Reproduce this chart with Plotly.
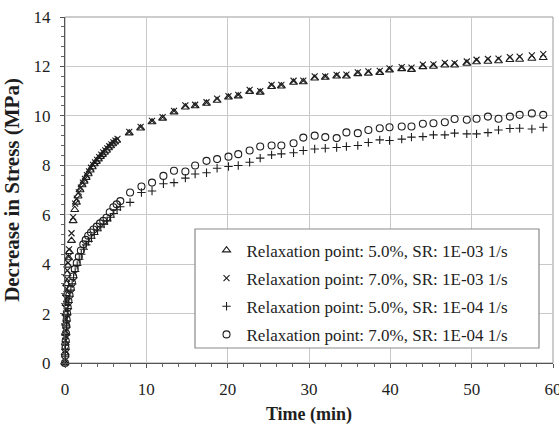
import plotly.graph_objects as go

# Stress relaxation: decrease in stress vs. time for two relaxation points and two strain rates

# 5.0 %, SR 1E-03 1/s (triangles)
t_5_e3 = [0.0, 0.02, 0.04, 0.06, 0.08, 0.10, 0.13, 0.16, 0.20, 0.26, 0.34, 0.44,
          0.55, 0.8, 1.0, 1.2, 1.4, 1.6, 1.85, 2.1, 2.35, 2.6, 2.85, 3.1, 3.35, 3.6,
          3.85, 4.1, 4.35, 4.6, 4.85, 5.1, 5.35, 5.6, 5.85, 6.1, 6.35,
          7.9, 9.3, 10.7, 12.0, 13.4, 14.8, 16.0, 17.4, 18.7, 20.1, 21.3, 22.7, 24.0,
          25.4, 26.6, 28.1, 29.3, 30.7, 32.0, 33.4, 34.6, 36.0, 37.3, 38.7, 39.9,
          41.4, 42.6, 44.0, 45.3, 46.7, 47.9, 49.4, 50.6, 52.0, 53.3, 54.7, 55.9,
          57.4, 58.8]
s_5_e3 = [0.0, 0.4, 0.8, 1.2, 1.6, 2.0, 2.4, 2.8, 3.2, 3.6, 3.95, 4.25,
          4.5, 4.95, 5.75, 6.2, 6.5, 6.75, 7.0, 7.2, 7.35, 7.5, 7.65, 7.8, 7.93, 8.05,
          8.15, 8.25, 8.35, 8.43, 8.52, 8.6, 8.7, 8.78, 8.86, 8.93, 9.0,
          9.3, 9.5, 9.75, 9.9, 10.15, 10.35, 10.4, 10.5, 10.62, 10.75, 10.8, 10.98, 10.95,
          11.18, 11.2, 11.35, 11.37, 11.52, 11.55, 11.6, 11.6, 11.7, 11.72, 11.75, 11.85,
          11.9, 11.87, 11.98, 12.0, 12.05, 12.05, 12.12, 12.18, 12.2, 12.22, 12.27, 12.28,
          12.32, 12.35]

# 7.0 %, SR 1E-03 1/s (crosses)
t_7_e3 = [0.0, 0.02, 0.04, 0.06, 0.09, 0.12, 0.15, 0.19, 0.24, 0.30, 0.37, 0.45,
          0.5, 0.8, 1.0, 1.25, 1.45, 1.7, 1.95, 2.2, 2.45, 2.7, 2.95, 3.2, 3.45, 3.7,
          3.95, 4.2, 4.45, 4.7, 4.95, 5.2, 5.45, 5.7, 5.95, 6.2, 6.45,
          7.9, 9.3, 10.7, 12.0, 13.4, 14.8, 16.0, 17.4, 18.7, 20.1, 21.3, 22.7, 24.0,
          25.4, 26.6, 28.1, 29.3, 30.7, 32.0, 33.4, 34.6, 36.0, 37.3, 38.7, 39.9,
          41.4, 42.6, 44.0, 45.3, 46.7, 47.9, 49.4, 50.6, 52.0, 53.3, 54.7, 55.9,
          57.4, 58.8]
s_7_e3 = [0.0, 0.5, 0.9, 1.3, 1.8, 2.2, 2.6, 3.0, 3.4, 3.75, 4.05, 4.3,
          4.6, 5.25, 5.9, 6.45, 6.65, 6.9, 7.1, 7.3, 7.45, 7.6, 7.75, 7.9, 8.02, 8.12,
          8.22, 8.33, 8.43, 8.52, 8.6, 8.68, 8.77, 8.85, 8.93, 9.0, 9.07,
          9.35, 9.55, 9.8, 9.95, 10.2, 10.42, 10.45, 10.55, 10.7, 10.8, 10.85, 11.05, 11.0,
          11.25, 11.25, 11.42, 11.43, 11.6, 11.6, 11.66, 11.67, 11.76, 11.8, 11.82, 11.92,
          11.97, 11.95, 12.07, 12.08, 12.14, 12.13, 12.2, 12.27, 12.3, 12.32, 12.38, 12.4,
          12.45, 12.5]

# 5.0 %, SR 1E-04 1/s (plus signs)
t_5_e4 = [0.0, 0.03, 0.06, 0.10, 0.14, 0.18, 0.23, 0.29, 0.36, 0.45, 0.58, 0.72,
          0.88, 1.05, 1.25, 1.5, 1.75, 2.0, 2.3, 2.6, 2.9, 3.25, 3.6, 4.0, 4.4, 4.8,
          5.2, 5.6, 6.0, 6.4, 6.8,
          8.0, 9.4, 10.7, 12.1, 13.4, 14.8, 16.0, 17.4, 18.7, 20.1, 21.3, 22.7, 24.0,
          25.4, 26.6, 28.1, 29.3, 30.7, 32.0, 33.4, 34.6, 36.0, 37.3, 38.7, 39.9,
          41.4, 42.6, 44.0, 45.3, 46.7, 47.9, 49.4, 50.6, 52.0, 53.3, 54.7, 55.9,
          57.4, 58.8]
s_5_e4 = [0.0, 0.25, 0.55, 0.85, 1.15, 1.45, 1.7, 1.95, 2.2, 2.45, 2.7, 2.95,
          3.2, 3.45, 3.7, 3.95, 4.2, 4.4, 4.6, 4.78, 4.92, 5.05, 5.2, 5.35, 5.5, 5.62,
          5.75, 5.9, 6.05, 6.2, 6.32,
          6.5, 6.9, 6.96, 7.25, 7.3, 7.48, 7.65, 7.7, 7.88, 7.95, 7.99, 8.12, 8.29,
          8.42, 8.46, 8.51, 8.6, 8.66, 8.69, 8.72, 8.76, 8.8, 8.92, 9.03, 9.0,
          9.06, 9.14, 9.16, 9.23, 9.23, 9.3, 9.27, 9.27, 9.32, 9.43, 9.49, 9.5,
          9.47, 9.54]

# 7.0 %, SR 1E-04 1/s (circles)
t_7_e4 = [0.0, 0.03, 0.06, 0.09, 0.12, 0.16, 0.20, 0.26, 0.33, 0.42, 0.55, 0.7,
          0.85, 1.0, 1.2, 1.45, 1.7, 1.95, 2.25, 2.55, 2.85, 3.2, 3.5, 3.9, 4.3, 4.7,
          5.1, 5.5, 5.95, 6.35, 6.8,
          8.0, 9.4, 10.7, 12.1, 13.4, 14.8, 16.0, 17.4, 18.7, 20.1, 21.3, 22.7, 24.0,
          25.4, 26.6, 28.1, 29.3, 30.7, 32.0, 33.4, 34.6, 36.0, 37.3, 38.7, 39.9,
          41.4, 42.6, 44.0, 45.3, 46.7, 47.9, 49.4, 50.6, 52.0, 53.3, 54.7, 55.9,
          57.4, 58.8]
s_7_e4 = [0.0, 0.3, 0.6, 0.9, 1.2, 1.5, 1.75, 2.0, 2.25, 2.5, 2.75, 3.0,
          3.25, 3.5, 3.8, 4.05, 4.3, 4.55, 4.8, 4.98, 5.15, 5.28, 5.4, 5.52, 5.65, 5.75,
          5.88, 6.1, 6.3, 6.42, 6.55,
          6.9, 7.14, 7.3, 7.57, 7.78, 7.75, 7.99, 8.18, 8.25, 8.35, 8.45, 8.6, 8.76,
          8.8, 8.8, 8.89, 9.12, 9.2, 9.14, 9.1, 9.33, 9.3, 9.43, 9.5, 9.54,
          9.57, 9.57, 9.68, 9.7, 9.74, 9.87, 9.84, 9.88, 9.97, 9.88, 9.97, 10.04,
          10.1, 10.04]

series = [
    ("Relaxation point: 5.0%, SR: 1E-03 1/s", t_5_e3, s_5_e3, "triangle-up-open", 7),
    ("Relaxation point: 7.0%, SR: 1E-03 1/s", t_7_e3, s_7_e3, "x-thin-open", 6),
    ("Relaxation point: 5.0%, SR: 1E-04 1/s", t_5_e4, s_5_e4, "cross-thin-open", 6),
    ("Relaxation point: 7.0%, SR: 1E-04 1/s", t_7_e4, s_7_e4, "circle-open", 7),
]

SERIF = "Liberation Serif, Times New Roman, serif"
INK = "#1e1e1e"

fig = go.Figure()
for i, (name, t, s, sym, size) in enumerate(series):
    fig.add_trace(go.Scatter(
        x=t, y=s, mode="markers", name=name, legendgroup=f"g{i}",
        marker=dict(symbol=sym, size=size, color=INK, line=dict(color=INK, width=1.1)),
        cliponaxis=False,
    ))

axis_common = dict(
    showgrid=True, gridcolor="#c9c9c9", gridwidth=1,
    showline=True, linecolor="#555555", linewidth=1.2,
    ticks="outside", ticklen=4, tickcolor="#555555",
    tickfont=dict(family=SERIF, size=17, color=INK),
    zeroline=False, automargin=False,
)

fig.update_xaxes(
    range=[0, 60], dtick=10, tick0=0,
    minor=dict(dtick=2, ticks="outside", ticklen=3, tickcolor="#666666", showgrid=False),
    title=dict(text="<b>Time (min)</b>", font=dict(family=SERIF, size=18, color=INK),
               standoff=9),
    ticklabelstandoff=6,
    ticklabeloverflow="allow",
    **axis_common,
)
fig.update_yaxes(
    range=[0, 14], dtick=2, tick0=0,
    minor=dict(dtick=0.4, ticks="outside", ticklen=3, tickcolor="#666666", showgrid=False),
    title=dict(text="<b>Decrease in Stress (MPa)</b>",
               font=dict(family=SERIF, size=21, color=INK), standoff=8),
    ticklabelstandoff=6,
    **axis_common,
)

fig.update_layout(
    width=559, height=426,
    margin=dict(l=65, r=6, t=17, b=63),
    paper_bgcolor="white", plot_bgcolor="white",
    showlegend=True,
    legend=dict(
        x=0.29, y=0.377, xanchor="left", yanchor="top",
        bgcolor="rgba(0,0,0,0)", borderwidth=0,
        font=dict(family=SERIF, size=17, color=INK),
        tracegroupgap=3, itemsizing="trace",
    ),
    shapes=[
        # plot frame
        dict(type="rect", xref="paper", yref="paper", x0=0, x1=1, y0=0, y1=1,
             line=dict(color="#9a9a9a", width=1), layer="below"),
        # legend box
        dict(type="rect", xref="paper", yref="paper", x0=0.2664, x1=0.9713,
             y0=0.0434, y1=0.3873, fillcolor="white",
             line=dict(color="#8a8a8a", width=1.2), layer="above"),
    ],
)

fig.write_html("out.html")
